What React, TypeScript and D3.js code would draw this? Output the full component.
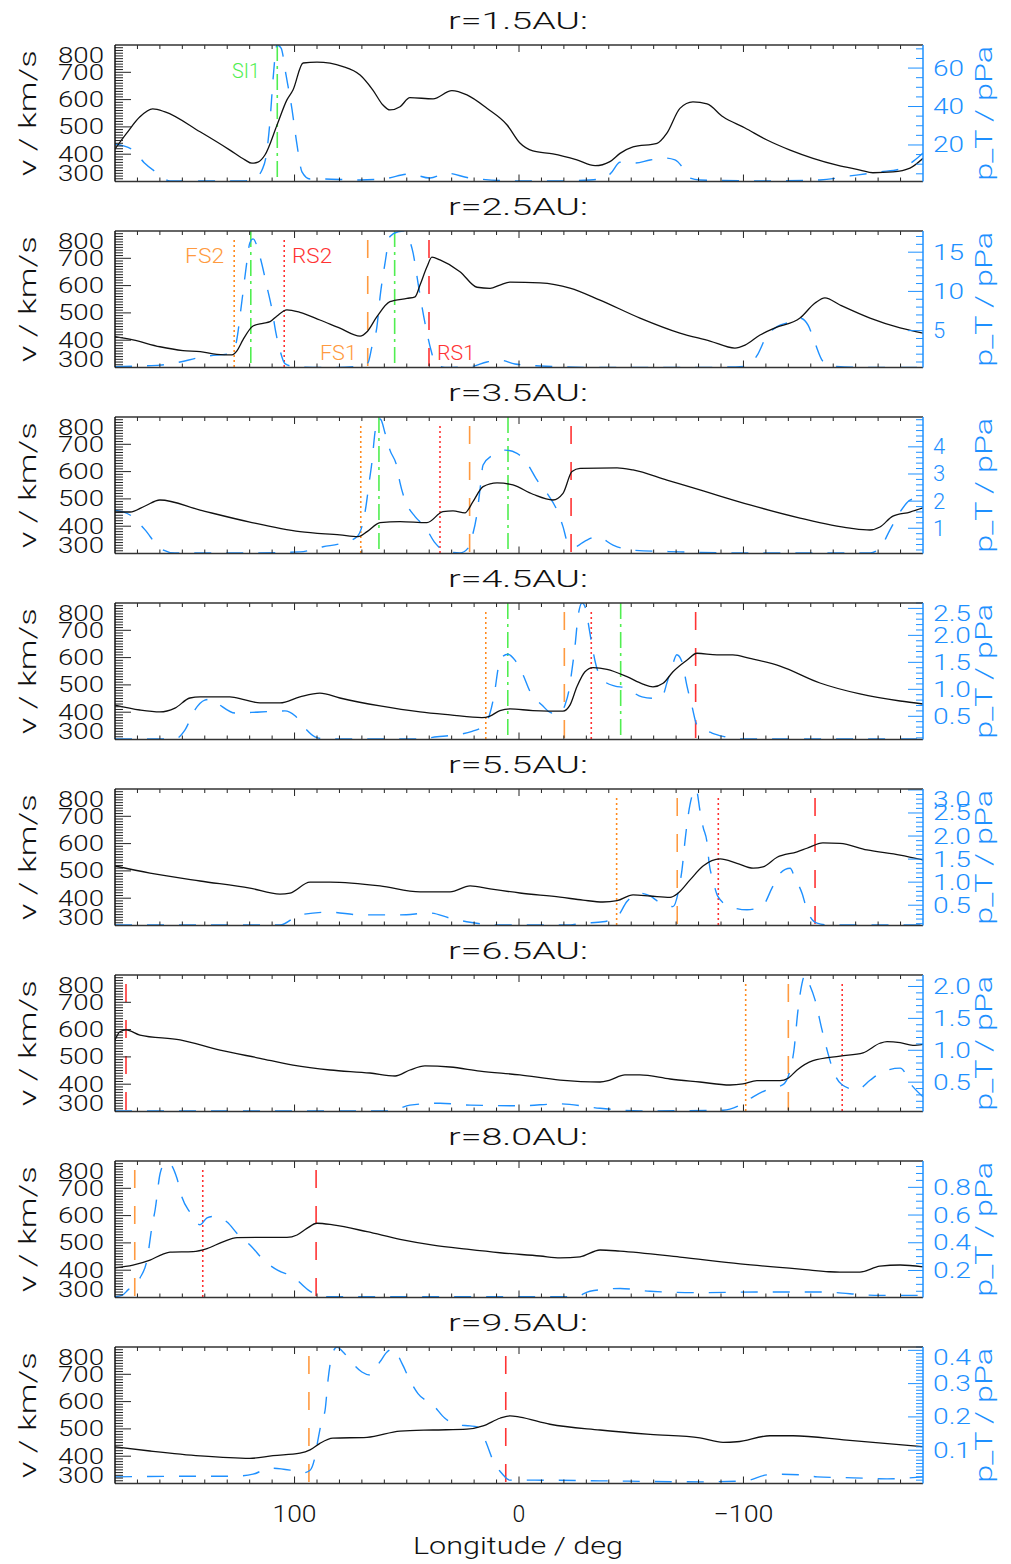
import React from "react";
import * as d3 from "d3";

type Pt = [number, number];
type Kind = "fsDot" | "rsDot" | "fsDash" | "rsDash" | "si";
type Marker = { lon: number; kind: Kind };
type MarkLabel = { text: string; lon: number; v: number; anchor: "start" | "end"; kind: Kind; width: number };

const radii = ["1.5", "2.5", "3.5", "4.5", "5.5", "6.5", "8.0", "9.5"];
const vTicks = [300, 400, 500, 600, 700, 800];
const lonMajorTicks = [100, 0, -100];
const lonTickLabels = ["100", "0", "\u2212100"];

const pDomains: Pt[] = [[1, 72], [0.3, 17.7], [0.07, 5.1], [0.07, 2.6], [0.06, 3.02], [0.04, 2.18], [0.005, 0.99], [0, 0.41]];
const pMajorTicks = [[20, 40, 60], [5, 10, 15], [1, 2, 3, 4], [0.5, 1, 1.5, 2, 2.5], [0.5, 1, 1.5, 2, 2.5, 3], [0.5, 1, 1.5, 2], [0.2, 0.4, 0.6, 0.8], [0.1, 0.2, 0.3, 0.4]];
const pMinorSteps = [5, 1, 0.2, 0.1, 0.1, 0.1, 0.05, 0.01];
const pDecimals = [0, 0, 0, 1, 1, 1, 1, 1];

// velocity (black, km/s) vs longitude
const v1: Pt[] = [[180,419],[174.7,478],[168.9,537],[163.2,566],[157.7,555],[142.1,482],[128.8,415],[122.1,379],[119,367],[116.3,371],[113.2,397],[107.8,507],[103.4,599],[100.7,635],[96.2,734],[90,737],[78.4,721],[70.8,690],[65.1,635],[60.6,580],[57.5,562],[53,574],[48.6,607],[38.3,603],[29.9,633],[23.2,617],[14.3,568],[5.3,507],[-0.4,441],[-6.2,412],[-15.1,401],[-25.8,379],[-33.9,358],[-40.5,373],[-45,403],[-50.8,427],[-61.5,440],[-65.9,477],[-71.7,568],[-77.5,592],[-83.8,584],[-90.9,537],[-100.7,496],[-110.5,452],[-120.8,415],[-131,385],[-141.7,360],[-152,342],[-157.7,332],[-166.6,335],[-174.2,349],[-180,385]];
const v2: Pt[] = [[180,413],[172,401],[160,376],[149.7,362],[142,358],[134.6,348],[127.9,346],[125.6,362],[123,401],[118.5,452],[114.1,462],[110.9,468],[107.8,489],[103.4,511],[97.6,502],[88.7,474],[79.8,444],[70.8,415],[67.7,431],[63.3,486],[57.5,541],[49.9,553],[46.3,559],[44.1,602],[41,669],[38.8,704],[35.2,694],[26.3,651],[18.7,594],[12.9,590],[8.5,602],[4,613],[-9.4,610],[-22.7,591],[-36.1,547],[-53.9,481],[-71.7,426],[-85.1,397],[-96.2,371],[-100.7,382],[-107.4,419],[-114.1,445],[-125.2,481],[-131.9,536],[-136.3,555],[-143,529],[-156.4,481],[-169.8,445],[-180,426]];
const v3: Pt[] = [[180,452],[173.3,452],[166.6,474],[160,496],[142.1,459],[119.9,415],[97.6,380],[79.8,368],[71.7,362],[67.7,380],[61.9,413],[53,417],[41,413],[33.9,453],[29.4,456],[24.1,449],[20.5,490],[16,545],[9.8,559],[2.7,551],[-6.2,517],[-15.1,496],[-19.6,520],[-23.6,600],[-27.2,612],[-43.7,614],[-50.8,606],[-65.9,569],[-80.6,533],[-102.9,478],[-125.2,430],[-147.5,393],[-156.4,386],[-160.8,397],[-166.6,437],[-174.2,452],[-180,467]];
const v4: Pt[] = [[180,426],[168.9,408],[160,401],[153.3,415],[146.6,452],[142.1,456],[128.8,456],[122.1,445],[115.4,434],[106.5,434],[97.6,456],[88.7,470],[79.8,452],[61.9,423],[44.1,401],[30.7,390],[16.5,380],[12.9,386],[8.5,406],[4,412],[-6.2,406],[-19.6,404],[-22.7,426],[-25.8,493],[-29.4,548],[-33,563],[-39.2,557],[-48.1,530],[-55.2,503],[-59.7,493],[-64.2,506],[-68.6,548],[-74.9,591],[-79.3,616],[-88.2,610],[-95.3,610],[-102.9,597],[-116.3,569],[-134.1,507],[-151.9,467],[-169.8,441],[-180,430]];
const v5: Pt[] = [[180,518],[164.4,492],[142.1,463],[119.9,437],[106.5,415],[102,419],[93.1,459],[84.2,459],[61.9,445],[44.1,423],[30.7,423],[21.8,445],[12.9,434],[-0.4,419],[-18.3,404],[-28.5,393],[-37.4,386],[-43.7,391],[-50.8,412],[-58.4,408],[-67.3,403],[-70.8,418],[-76.2,467],[-82,518],[-89.6,544],[-97.1,528],[-104.3,510],[-108.7,515],[-115,550],[-123.9,570],[-128.3,583],[-135.4,603],[-143,601],[-155,577],[-169.8,558],[-180,540]];
const v6: Pt[] = [[180,562],[177.8,592],[175.1,599],[168.9,580],[151,562],[133.2,525],[115.4,495],[100.7,470],[84.2,452],[66.4,441],[55.2,430],[48.6,452],[41.9,467],[30.7,463],[17.4,448],[-0.4,434],[-18.3,415],[-36.1,408],[-40.5,415],[-47.2,434],[-53.9,434],[-67.3,419],[-80.6,408],[-94,397],[-99.8,401],[-106,413],[-116.3,413],[-119.9,422],[-123.9,452],[-131,486],[-143,503],[-153.3,515],[-160.8,550],[-164,556],[-169.8,552],[-175.5,542],[-180,546]];
const v7: Pt[] = [[180,409],[172,419],[164.4,437],[158.6,459],[155.5,466],[145.2,468],[139,479],[131.9,504],[125.6,519],[115.4,520],[103.4,520],[98.9,529],[94.5,553],[90,572],[82.9,566],[67.7,541],[53,513],[38.3,492],[23.2,477],[8.5,464],[-9.4,452],[-18.3,445],[-27.2,449],[-36.1,474],[-45,470],[-71.7,448],[-98.5,423],[-125.2,404],[-143,393],[-151.9,393],[-160.8,415],[-169.8,419],[-180,412]];
const v8: Pt[] = [[180,434],[164.4,419],[142.1,401],[119.9,392],[109.6,402],[97.6,411],[93.1,423],[88.7,447],[82.9,466],[67.7,469],[53,492],[38.3,496],[23.2,499],[16,511],[8.5,539],[4,548],[-0.4,543],[-13.8,517],[-36.1,496],[-58.4,480],[-80.6,467],[-90.9,451],[-97.1,453],[-111.8,475],[-122.1,475],[-146.1,459],[-180,435]];

// total pressure (blue, pPa) vs longitude
const p1: Pt[] = [[180,20.5],[172,17.4],[167,10.8],[161,5.3],[155.5,1.3],[122,1.3],[117.6,2.8],[114.5,7],[112.7,14],[110.9,33],[109.6,54],[107.8,72],[106,70.4],[103.8,56.4],[101.1,38.2],[98.9,20],[96.7,6],[93.1,2.3],[88.7,2.3],[70.8,1.8],[59.7,2.5],[48.6,4.9],[39.7,2.8],[32.1,5.3],[21.8,2.8],[-0.4,1.3],[-18.3,1.3],[-31.6,1.8],[-38.3,2.8],[-41.4,6],[-45,11],[-51.7,10.6],[-58.4,12.2],[-65,13.2],[-69.5,12.2],[-73.1,8],[-76.2,2.8],[-80.6,1.8],[-107.4,1.3],[-134.1,1.8],[-147.5,3.9],[-160.8,6],[-169.8,7.5],[-176.4,12.2],[-180,15.8]];
const p2: Pt[] = [[180,0.4],[167.6,0.5],[160,0.6],[151,1.0],[143.5,1.5],[137.7,1.8],[130.1,2.0],[126.5,3.0],[123.4,8.9],[121.6,13],[119.9,16.2],[118.5,16.7],[115.4,14.4],[112.3,10.6],[110,7.6],[108.3,4.7],[106.5,2.5],[104.3,0.8],[99.8,0.4],[84.2,0.3],[70.8,0.45],[67.3,0.9],[65.5,3.0],[63.3,5.5],[61.9,9.3],[59.7,13.6],[57.5,17.0],[53.9,17.6],[51.2,17.7],[49.5,17.0],[47.2,14.9],[45,11.1],[43.2,8.0],[41,4.7],[39.2,2.5],[37.4,0.9],[33,0.3],[21.8,0.4],[14.3,1.0],[8.5,1.25],[1.8,0.75],[-9.4,0.5],[-36.1,0.3],[-80.6,0.3],[-100.7,0.45],[-106,1.8],[-110.5,4.4],[-115,5.5],[-120.8,6.1],[-125.2,6.6],[-128.8,5.7],[-131.9,3.4],[-135,1.25],[-138.5,0.5],[-156.4,0.3],[-180,0.3]];
const p3: Pt[] = [[180,1.67],[173.3,1.49],[166.6,0.94],[160,0.27],[153.3,0.09],[119.9,0.09],[97.6,0.13],[87.3,0.32],[78.9,0.45],[72.2,0.69],[70,1.06],[68.2,1.8],[66.8,2.67],[65.5,3.45],[64.2,4.51],[62.8,5.06],[61.5,5.0],[59.7,4.51],[57.5,3.88],[54.4,3.27],[53,2.67],[50.8,2.04],[46.3,1.43],[41.9,1.06],[37.4,0.46],[33,0.16],[26.3,0.09],[22.7,0.27],[20.9,0.69],[18.7,1.55],[17.4,2.41],[16,3.33],[11.6,3.7],[6.2,3.88],[0.9,3.76],[-3.6,3.39],[-8,2.78],[-12.5,2.29],[-16.9,1.67],[-19.6,1.06],[-21.8,0.45],[-25,0.32],[-29.4,0.53],[-34.8,0.69],[-41.9,0.38],[-49.5,0.2],[-71.7,0.13],[-102.9,0.09],[-156.4,0.09],[-160.8,0.27],[-165.3,0.94],[-169.8,1.6],[-174.2,2.04],[-180,2.15]];
const p4: Pt[] = [[180,0.08],[153.3,0.08],[148.8,0.25],[144.4,0.62],[140,0.8],[136.8,0.82],[133.3,0.71],[126.5,0.56],[115.4,0.58],[104.3,0.6],[99.8,0.51],[95.3,0.28],[90.9,0.12],[86.4,0.08],[45,0.08],[36.5,0.12],[29.4,0.15],[20.9,0.22],[15.1,0.34],[12.9,0.56],[10.7,0.99],[9.4,1.36],[7.6,1.6],[4.9,1.65],[1.8,1.54],[-1.8,1.27],[-4.9,0.96],[-10.2,0.71],[-14.7,0.56],[-18.3,0.56],[-20.5,0.71],[-22.3,0.99],[-23.6,1.36],[-25,1.82],[-26.3,2.35],[-28.1,2.6],[-29.9,2.47],[-31.2,2.14],[-32.5,1.82],[-34.3,1.45],[-37.4,1.17],[-42.8,1.06],[-47.2,1.03],[-54.8,0.86],[-61.5,0.83],[-64.2,0.9],[-65.9,1.12],[-68.2,1.42],[-70.3,1.64],[-72.6,1.51],[-74.9,1.05],[-77.1,0.68],[-79.3,0.34],[-86,0.19],[-91.8,0.12],[-96.2,0.08],[-180,0.08]];
const p5: Pt[] = [[180,0.07],[106.5,0.07],[97.6,0.29],[84.2,0.35],[70.8,0.29],[53,0.29],[39.7,0.33],[30.7,0.22],[21.8,0.13],[8.5,0.07],[-21.4,0.07],[-28.5,0.11],[-37.4,0.14],[-43.7,0.25],[-48.1,0.58],[-53.9,0.76],[-58.4,0.7],[-62,0.58],[-68.6,0.47],[-71.3,0.87],[-72.6,1.26],[-74,1.91],[-75.3,2.42],[-77.5,2.93],[-78.9,3.02],[-80.6,2.56],[-82,2.2],[-83.8,1.85],[-84.7,1.42],[-86.4,1.05],[-88.6,0.69],[-94,0.47],[-101.6,0.4],[-108.7,0.5],[-112.7,0.87],[-116.3,1.19],[-120.8,1.3],[-123,1.08],[-126.1,0.76],[-128.3,0.4],[-132.8,0.11],[-138.5,0.07],[-180,0.07]];
const p6: Pt[] = [[180,0.05],[57.5,0.05],[48.6,0.14],[35.2,0.17],[21.8,0.14],[-0.4,0.13],[-18.3,0.16],[-36.1,0.09],[-53.9,0.05],[-90.9,0.06],[-98.5,0.14],[-104.3,0.27],[-111.8,0.4],[-117.6,0.46],[-120.8,0.69],[-122.5,1.0],[-124.3,1.63],[-126.1,2.05],[-127.4,2.18],[-129.2,2.05],[-131.9,1.79],[-135,1.32],[-137.6,0.96],[-139.9,0.69],[-143.9,0.46],[-150.6,0.38],[-156.4,0.53],[-160.8,0.64],[-169.8,0.72],[-175.5,0.43],[-180,0.27]];
const p7: Pt[] = [[180,0.01],[176.9,0.02],[174.2,0.06],[168.9,0.145],[165.7,0.28],[163.5,0.52],[162.1,0.64],[159.9,0.9],[157.7,0.975],[156.4,0.98],[152.4,0.865],[150.2,0.73],[146.6,0.62],[142.1,0.53],[139,0.58],[136.4,0.59],[133.2,0.58],[130.1,0.55],[125.2,0.46],[119,0.37],[114.1,0.28],[107.4,0.2],[100.7,0.155],[94,0.06],[90,0.025],[84.2,0.01],[-25,0.01],[-31.6,0.05],[-45,0.07],[-58.4,0.05],[-80.6,0.04],[-107.4,0.045],[-134.1,0.045],[-160.8,0.02],[-180,0.02]];
const p8: Pt[] = [[180,0.02],[142.1,0.022],[126.5,0.022],[118.5,0.028],[110.9,0.046],[102,0.04],[96.2,0.032],[93.1,0.04],[90.9,0.08],[89.6,0.13],[87.8,0.19],[86.4,0.22],[85.1,0.31],[83.3,0.386],[81.1,0.41],[78.4,0.395],[74,0.36],[70,0.335],[66.4,0.326],[61.9,0.366],[58.8,0.395],[56.1,0.404],[52.1,0.36],[48.6,0.31],[45,0.27],[38.3,0.236],[33,0.196],[27.2,0.176],[21.8,0.173],[18.7,0.17],[15.1,0.13],[11.6,0.07],[7.6,0.03],[4,0.01],[-7.1,0.01],[-36.1,0.008],[-80.6,0.005],[-100.7,0.008],[-110.5,0.026],[-117.2,0.028],[-125.2,0.026],[-132.8,0.02],[-148.9,0.017],[-164,0.014],[-180,0.02]];

// structure markers (longitudes)
const markers1: Marker[] = [{ lon: 107.7, kind: "si" }];
const markers2: Marker[] = [{ lon: 126.9, kind: "fsDot" }, { lon: 119.5, kind: "si" }, { lon: 104.6, kind: "rsDot" }, { lon: 67.4, kind: "fsDash" }, { lon: 55.4, kind: "si" }, { lon: 40.1, kind: "rsDash" }];
const markers3: Marker[] = [{ lon: 70.5, kind: "fsDot" }, { lon: 62.4, kind: "si" }, { lon: 35.2, kind: "rsDot" }, { lon: 22.0, kind: "fsDash" }, { lon: 4.9, kind: "si" }, { lon: -23.2, kind: "rsDash" }];
const markers4: Marker[] = [{ lon: 14.8, kind: "fsDot" }, { lon: 5.0, kind: "si" }, { lon: -20.2, kind: "fsDash" }, { lon: -32.2, kind: "rsDot" }, { lon: -45.3, kind: "si" }, { lon: -78.7, kind: "rsDash" }];
const markers5: Marker[] = [{ lon: -43.5, kind: "fsDot" }, { lon: -70.5, kind: "fsDash" }, { lon: -88.8, kind: "rsDot" }, { lon: -131.9, kind: "rsDash" }];
const markers6: Marker[] = [{ lon: 175.1, kind: "rsDash" }, { lon: -101.0, kind: "fsDot" }, { lon: -120.0, kind: "fsDash" }, { lon: -144.0, kind: "rsDot" }];
const markers7: Marker[] = [{ lon: 171.2, kind: "fsDash" }, { lon: 140.9, kind: "rsDot" }, { lon: 90.4, kind: "rsDash" }];
const markers8: Marker[] = [{ lon: 93.6, kind: "fsDash" }, { lon: 5.9, kind: "rsDash" }];

const labels1: MarkLabel[] = [{ text: "SI1", lon: 115.4, v: 679, anchor: "end", kind: "si", width: 28 }];
const labels2: MarkLabel[] = [
  { text: "FS2", lon: 131.4, v: 683, anchor: "end", kind: "fsDash", width: 39 },
  { text: "RS2", lon: 101.1, v: 683, anchor: "start", kind: "rsDash", width: 40 },
  { text: "FS1", lon: 72.2, v: 327, anchor: "end", kind: "fsDash", width: 37 },
  { text: "RS1", lon: 36.5, v: 327, anchor: "start", kind: "rsDash", width: 38 },
];

const vSeries = [v1, v2, v3, v4, v5, v6, v7, v8];
const pSeries = [p1, p2, p3, p4, p5, p6, p7, p8];
const markerSets = [markers1, markers2, markers3, markers4, markers5, markers6, markers7, markers8];
const labelSets: MarkLabel[][] = [labels1, labels2, [], [], [], [], [], []];

const FONT = "Roboto, 'DejaVu Sans', sans-serif";
const BLUE = "#1e90ff";
const COLORS: Record<Kind, string> = { fsDot: "#ff8a1e", rsDot: "#ff3030", fsDash: "#ff9a40", rsDash: "#ff3333", si: "#50ee50" };
const DASH: Record<Kind, string> = { fsDot: "2 3", rsDot: "2 3", fsDash: "18 18", rsDash: "18 18", si: "16 5 3 5" };
const ADJ = "spacingAndGlyphs";

export default function App() {
  const W = 1011, H = 1564;
  const X0 = 115, X1 = 923;
  const x = d3.scaleLinear().domain([180, -180]).range([X0, X1]);
  const lonMinor = d3.range(-170, 171, 10);
  const vMinor = d3.range(310, 800, 10);

  return (
    <svg width={W} height={H} style={{ position: "absolute", left: 0, top: 0 }} fontFamily={FONT} fontWeight={300}>
      <rect width={W} height={H} fill="#fff" />
      {radii.map((r, i) => {
        const top = 45 + i * 186;
        const bottom = top + 136.5;
        const mid = (top + bottom) / 2;
        const yV = d3.scaleLinear().domain([300, 800]).range([bottom, top]);
        const [plo, phi] = pDomains[i];
        const yP = d3.scaleLinear().domain([plo, phi]).range([bottom, top]);
        const lineV = d3.line<Pt>().x(d => x(d[0])).y(d => yV(d[1])).curve(d3.curveMonotoneX);
        const lineP = d3.line<Pt>().x(d => x(d[0])).y(d => yP(d[1])).curve(d3.curveMonotoneX);
        const step = pMinorSteps[i];
        const pMinor = d3.range(Math.ceil(plo / step - 1e-6), Math.floor(phi / step + 1e-6) + 1).map(k => k * step);
        const fmt = d3.format(pDecimals[i] ? ".1f" : "d");
        const lbl = (y: number) => Math.min(Math.max(y, top + 10), bottom - 8) + 7.5;
        const clipId = `clip${i}`;
        return (
          <g key={r}>
            <defs>
              <clipPath id={clipId}>
                <rect x={X0} y={top} width={X1 - X0} height={bottom - top} />
              </clipPath>
            </defs>
            <text x={518} y={top - 16} textAnchor="middle" fontSize={24} textLength={140} lengthAdjust={ADJ} fill="#111">{`r=${r}AU:`}</text>
            <g clipPath={`url(#${clipId})`}>
              {markerSets[i].map((m, k) => (
                <line key={k} x1={x(m.lon)} x2={x(m.lon)} y1={m.kind === "si" ? top : top + 9} y2={bottom}
                  stroke={COLORS[m.kind]} strokeWidth={1.6} strokeDasharray={DASH[m.kind]} />
              ))}
              <path d={lineP(pSeries[i]) || ""} fill="none" stroke={BLUE} strokeWidth={1.4} strokeDasharray="17 15" />
              <path d={lineV(vSeries[i]) || ""} fill="none" stroke="#111" strokeWidth={1.3} />
            </g>
            {labelSets[i].map((l, k) => (
              <text key={k} x={x(l.lon)} y={yV(l.v)} textAnchor={l.anchor} fontSize={21} fill={COLORS[l.kind]}
                textLength={l.width} lengthAdjust={ADJ}>{l.text}</text>
            ))}
            {lonMinor.map(lon => {
              const major = lon % 100 === 0;
              const len = major ? 7 : 4;
              return (
                <g key={lon} stroke="#222" strokeWidth={1}>
                  <line x1={x(lon)} x2={x(lon)} y1={top} y2={top + len} />
                  <line x1={x(lon)} x2={x(lon)} y1={bottom} y2={bottom - len} />
                </g>
              );
            })}
            {vMinor.map(v => (
              <line key={v} x1={X0} x2={X0 + (v % 100 === 0 ? 16 : 8)} y1={yV(v)} y2={yV(v)} stroke="#222" strokeWidth={1} />
            ))}
            {vTicks.map(v => (
              <text key={v} x={104} y={lbl(yV(v))} textAnchor="end" fontSize={22} textLength={46} lengthAdjust={ADJ} fill="#111">{v}</text>
            ))}
            {pMinor.map((pv, k) => {
              const major = pMajorTicks[i].some(t => Math.abs(t - pv) < step / 10);
              return <line key={k} x1={X1} x2={X1 - (major ? 15 : 7)} y1={yP(pv)} y2={yP(pv)} stroke={BLUE} strokeWidth={1} />;
            })}
            {pMajorTicks[i].map(t => {
              const s = fmt(t);
              return (
                <text key={t} x={933} y={lbl(yP(t))} fontSize={22} fill={BLUE}
                  {...(s.length > 1 ? { textLength: s.length === 2 ? 31 : 38, lengthAdjust: ADJ } : {})}>{s}</text>
              );
            })}
            <line x1={X0} x2={X1} y1={top} y2={top} stroke="#333" strokeWidth={1.5} />
            <line x1={X0} x2={X1} y1={bottom} y2={bottom} stroke="#333" strokeWidth={1.5} />
            <line x1={X0} x2={X0} y1={top} y2={bottom} stroke="#111" strokeWidth={1.5} />
            <line x1={X1} x2={X1} y1={top} y2={bottom} stroke={BLUE} strokeWidth={1.5} />
            <text transform={`translate(36,${mid}) rotate(-90)`} textAnchor="middle" fontSize={24} textLength={126} lengthAdjust={ADJ} fill="#111">v / km/s</text>
            <text transform={`translate(992,${mid}) rotate(-90)`} textAnchor="middle" fontSize={24} textLength={135} lengthAdjust={ADJ} fill={BLUE}>p_T / pPa</text>
            {i === radii.length - 1 && (
              <g>
                {lonMajorTicks.map((lon, k) => (
                  <text key={lon} x={x(lon)} y={bottom + 38} textAnchor="middle" fontSize={23} fill="#111"
                    {...(lonTickLabels[k].length > 1 ? { textLength: lonTickLabels[k].length === 3 ? 44 : 60, lengthAdjust: ADJ } : {})}>{lonTickLabels[k]}</text>
                ))}
                <text x={518} y={bottom + 70} textAnchor="middle" fontSize={24} textLength={210} lengthAdjust={ADJ} fill="#111">Longitude / deg</text>
              </g>
            )}
          </g>
        );
      })}
    </svg>
  );
}
